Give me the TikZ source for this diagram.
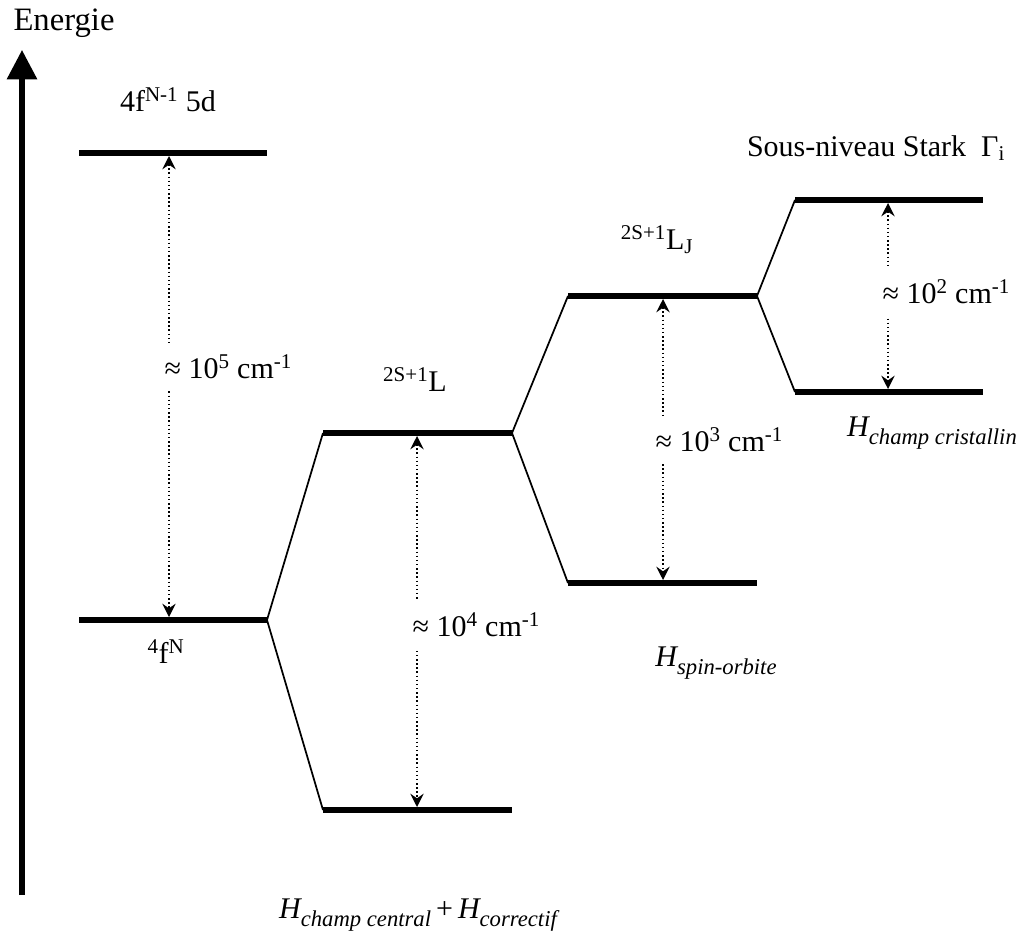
\documentclass[tikz,border=0pt]{standalone}
\usepackage{fontspec}
\setmainfont{Liberation Serif}
\usetikzlibrary{arrows.meta}
\newcommand{\hsub}[1]{\raisebox{-0.25em}{\fontsize{17}{19}\selectfont\itshape #1}}
\begin{document}
\begin{tikzpicture}[x=0.75pt,y=-0.75pt,
  level/.style={line width=4.3pt},
  link/.style={line width=1.3pt},
  gap/.style={dotted, line width=1.1pt,
    {Stealth[length=10pt,width=10pt,inset=3.5pt]}-{Stealth[length=10pt,width=10pt,inset=3.5pt]}},
  lab/.style={font=\fontsize{22.5}{26}\selectfont, inner sep=0pt},
  val/.style={lab, fill=white, inner ysep=9pt, inner xsep=1pt, anchor=west},
  ham/.style={lab, font=\fontsize{22.5}{26}\selectfont\itshape}]
\useasboundingbox (0,0) rectangle (1032,931);

% energy axis
\coordinate (e0) at (22,895);
\coordinate (e1) at (22,50);
\draw[line width=3.8pt, -{Triangle[length=22pt,width=22pt]}] (e0) -- (e1);
\node[lab, font=\fontsize{24.5}{28}\selectfont] (energie) at (64,23) {Energie};

% levels
\coordinate (A1) at (79,153);  \coordinate (A2) at (267,153);
\coordinate (B1) at (79,620);  \coordinate (B2) at (267,620);
\coordinate (C1) at (323,433); \coordinate (C2) at (512,433);
\coordinate (D1) at (323,810); \coordinate (D2) at (512,810);
\coordinate (E1) at (568,296); \coordinate (E2) at (757,296);
\coordinate (F1) at (568,583); \coordinate (F2) at (757,583);
\coordinate (G1) at (795,200); \coordinate (G2) at (983,200);
\coordinate (H1) at (795,392); \coordinate (H2) at (983,392);
\foreach \l in {A,B,C,D,E,F,G,H}{\draw[level] (\l1) -- (\l2);}

% links
\draw[link] (C1) -- (B2) -- (D1);
\draw[link] (E1) -- (C2) -- (F1);
\draw[link] (G1) -- (E2) -- (H1);

% gaps
\coordinate (ga) at (169,156); \coordinate (gb) at (169,617);
\coordinate (gc) at (417,436); \coordinate (gd) at (417,807);
\coordinate (ge) at (663,299); \coordinate (gf) at (663,580);
\coordinate (gg) at (888,203); \coordinate (gh) at (888,389);
\draw[gap] (ga) -- (gb);
\draw[gap] (gc) -- (gd);
\draw[gap] (ge) -- (gf);
\draw[gap] (gg) -- (gh);
\node[val] (v5) at (163,367) {≈ 10\textsuperscript{5} cm\textsuperscript{-1}};
\node[val] (v4) at (411,625) {≈ 10\textsuperscript{4} cm\textsuperscript{-1}};
\node[val] (v3) at (654,440) {≈ 10\textsuperscript{3} cm\textsuperscript{-1}};
\node[val] (v2) at (881,292) {≈ 10\textsuperscript{2} cm\textsuperscript{-1}};

% level labels
\node[lab] (la) at (168,100) {4f\textsuperscript{N-1} 5d};
\node[lab] (lb) at (166,652) {\textsuperscript{4}f\textsuperscript{N}};
\node[lab] (lc) at (415,380) {\textsuperscript{2S+1}L};
\node[lab] (le) at (657,240) {\textsuperscript{2S+1}L\textsubscript{J}};
\node[lab] (lg) at (876,148) {Sous-niveau Stark\ \ Γ\textsubscript{i}};

% hamiltonians
\node[ham] (h1) at (418,915) {H\hsub{champ central}\,\upshape+\,\itshape H\hsub{correctif}};
\node[ham] (h2) at (716,663) {H\hsub{spin-orbite}};
\node[ham] (h3) at (932,433) {H\hsub{champ cristallin}};
\end{tikzpicture}
\end{document}
